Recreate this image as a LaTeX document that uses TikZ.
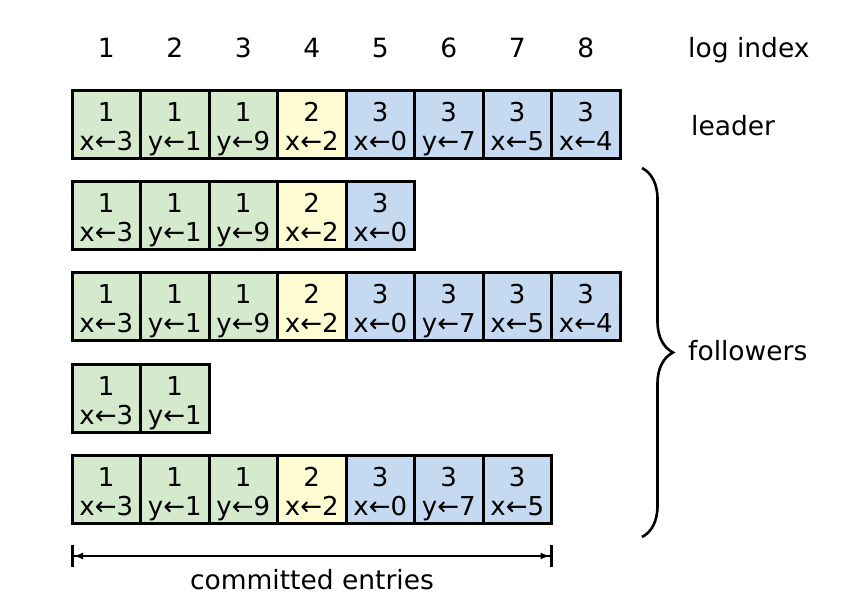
\documentclass[tikz,border=0pt]{standalone}
\usepackage{fontspec}
\setmainfont{DejaVu Sans}
\usetikzlibrary{arrows.meta,decorations.pathreplacing}
\definecolor{tgreen}{RGB}{213,233,205}
\definecolor{tyellow}{RGB}{255,251,211}
\definecolor{tblue}{RGB}{197,218,240}
\begin{document}
\begin{tikzpicture}[x=1pt,y=-1pt,
  cell/.style={draw=black, line width=3pt, minimum width=68.5pt, minimum height=68pt, inner sep=0pt, align=center, font=\fontsize{26}{29}\selectfont},
  t1/.style={cell, fill=tgreen}, t2/.style={cell, fill=tyellow}, t3/.style={cell, fill=tblue},
  lbl/.style={font=\fontsize{26.5}{29}\selectfont, inner sep=0pt},
  dimline/.style={line width=1.3pt, {Rectangle[length=3.5pt,width=22pt]Latex[length=9pt,width=7pt]}-{Latex[length=9pt,width=7pt]Rectangle[length=3.5pt,width=22pt]}}]
\useasboundingbox (0,0) rectangle (862,594);
\foreach \r/\top/\n in {1/90/8, 2/181/5, 3/272/8, 4/364/2, 5/455/7} {
  \foreach \t/\c [count=\i] in {1/x←3,1/y←1,1/y←9,2/x←2,3/x←0,3/y←7,3/x←5,3/x←4} {
    \ifnum\i>\n\relax\else
      \node[t\t] (r\r c\i) at ({72+68.5*(\i-0.5)}, {\top+34}) {\rule{0pt}{30pt}\t\\\c\rule[-7pt]{0pt}{7pt}};
    \fi
  }
}
\foreach \i in {1,...,8} {
  \node[lbl, anchor=base] (idx\i) at ({72+68.5*(\i-0.5)}, 58) {\i};
}
\node[lbl, anchor=base west] (logindex) at (688,58) {log index};
\node[lbl, anchor=base west] (leader) at (691,135) {leader};
\coordinate (btop) at (642,168);
\coordinate (bbot) at (642,537);
\draw[decorate, decoration={brace, amplitude=31pt}, line width=2.6pt] (btop) -- (bbot);
\node[lbl, anchor=base west] (followers) at (688,360) {followers};
\coordinate (cs) at (r5c1.west |- 0,556);
\coordinate (ce) at (r5c7.east |- 0,556);
\draw[dimline] (cs) -- (ce);
\node[lbl, anchor=base] (committed) at (312,589) {committed entries};
\end{tikzpicture}
\end{document}
